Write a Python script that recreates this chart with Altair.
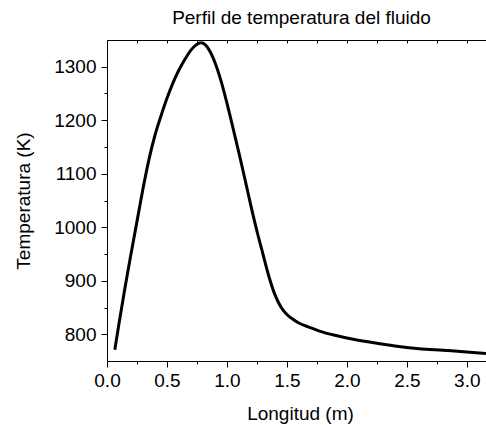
import altair as alt
import pandas as pd

# ---- data ----
longitud = [0.065, 0.10, 0.15, 0.20, 0.25, 0.30, 0.35, 0.40, 0.45, 0.50,
            0.55, 0.60, 0.65, 0.70, 0.75, 0.78, 0.80, 0.85, 0.90, 0.95,
            1.00, 1.05, 1.10, 1.15, 1.20, 1.25, 1.30, 1.35, 1.40, 1.45,
            1.50, 1.55, 1.60, 1.65, 1.70, 1.80, 1.90, 2.00, 2.20, 2.40,
            2.60, 2.80, 3.00, 3.16]
temperatura = [771, 820, 887, 950, 1011, 1072, 1127, 1172, 1208, 1241,
               1270, 1294, 1314, 1331, 1342, 1345, 1344, 1332, 1308, 1274,
               1232, 1186, 1139, 1090, 1040, 993, 950, 908, 874, 851,
               837, 828, 821, 816, 812, 804, 798, 793, 785, 778,
               773, 770, 767, 764]

x_major = [0.0, 0.5, 1.0, 1.5, 2.0, 2.5, 3.0]
x_minor = [0.25, 0.75, 1.25, 1.75, 2.25, 2.75]
x_top = [0.0, 0.25, 0.5, 0.75, 1.0, 1.25, 1.5, 1.75, 2.0, 2.25, 2.5, 2.75, 3.0]
y_major = [800, 900, 1000, 1100, 1200, 1300]
y_minor = [850, 950, 1050, 1150, 1250]

title_text = "Perfil de temperatura del fluido"
x_title = "Longitud (m)"
y_title = "Temperatura (K)"

df = pd.DataFrame({"Longitud": longitud, "Temperatura": temperatura})

FONT = "Liberation Sans"
xscale = alt.Scale(domain=[0, 3.16], nice=False, zero=False)
yscale = alt.Scale(domain=[750, 1350], nice=False, zero=False)

common = dict(grid=False, domainColor="black", tickColor="black",
              labelColor="black", labelFont=FONT, labelFontSize=19,
              titleFont=FONT, titleFontSize=19, titleFontWeight="normal",
              titleColor="black", domainWidth=1, tickWidth=1)

base = alt.Chart(df)

main = base.mark_line(color="black", strokeWidth=3, interpolate="monotone", clip=True).encode(
    x=alt.X("Longitud:Q", scale=xscale,
            axis=alt.Axis(orient="bottom", values=x_major, format=".1f",
                          tickSize=6, labelPadding=4, labelFlush=False,
                          labelOverlap=False, title=x_title,
                          titleX=193, titleY=58, titleBaseline="alphabetic",
                          titleAlign="center", **common)),
    y=alt.Y("Temperatura:Q", scale=yscale,
            axis=alt.Axis(orient="left", values=y_major, format="d", tickSize=6,
                          labelPadding=5, labelOverlap=False, title=y_title,
                          titleAngle=270, titleAlign="center",
                          titleBaseline="alphabetic", titleX=-78, titleY=160.5,
                          **common)),
)

minor = base.mark_line(opacity=0).encode(
    x=alt.X("Longitud:Q", scale=xscale,
            axis=alt.Axis(orient="bottom", values=x_minor, tickSize=3,
                          labels=False, domain=False, title=None, **common)),
    y=alt.Y("Temperatura:Q", scale=yscale,
            axis=alt.Axis(orient="left", values=y_minor, tickSize=3,
                          labels=False, domain=False, title=None, **common)),
)

top_line = base.mark_line(opacity=0).encode(
    x=alt.X("Longitud:Q", scale=xscale,
            axis=alt.Axis(orient="top", ticks=False, labels=False,
                          title=None, **common)),
    y=alt.Y("Temperatura:Q", scale=yscale, axis=None),
)

top_ticks = base.mark_line(opacity=0).encode(
    x=alt.X("Longitud:Q", scale=xscale,
            axis=alt.Axis(orient="top", offset=-3, values=x_top, tickSize=3,
                          labels=False, domain=False, title=None, **common)),
    y=alt.Y("Temperatura:Q", scale=yscale, axis=None),
)

chart = alt.layer(main, minor, top_line, top_ticks).resolve_axis(
    x="independent", y="independent"
).properties(
    width=379,
    height=321,
    title=alt.TitleParams(title_text, font=FONT, fontSize=19,
                          fontWeight="normal", color="black",
                          anchor="middle", offset=12, dx=5),
    autosize=alt.AutoSizeParams(type="none"),
    padding={"left": 107, "top": 40, "right": 0, "bottom": 64},
    background="white",
).configure_view(stroke="transparent")

chart.save("out.html", embed_options={"renderer": "svg", "actions": False})
